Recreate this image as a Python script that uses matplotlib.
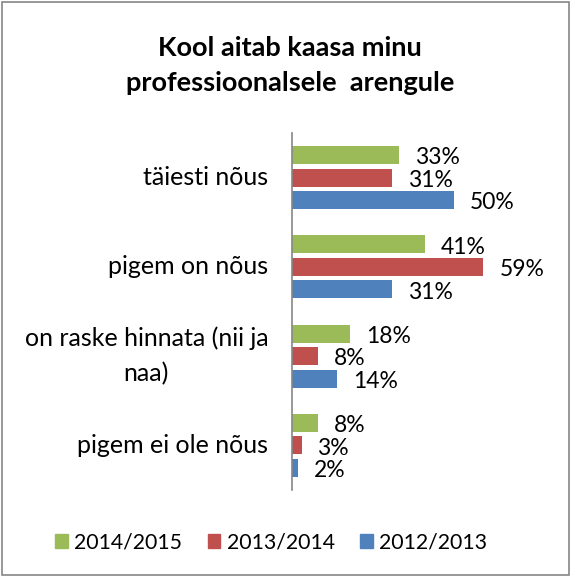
import matplotlib
matplotlib.use("Agg")
import matplotlib.pyplot as plt
from matplotlib.patches import Rectangle, Patch

plt.rcParams['font.family'] = ['Lato', 'DejaVu Sans']

# andmed
kategooriad = ['täiesti nõus', 'pigem on nõus', 'on raske hinnata (nii ja\nnaa)', 'pigem ei ole nõus']
aastad = ['2014/2015', '2013/2014', '2012/2013']
v_2014_2015 = [33, 41, 18, 8]
v_2013_2014 = [31, 59, 8, 3]
v_2012_2013 = [50, 31, 14, 2]
seeriad = [v_2014_2015, v_2013_2014, v_2012_2013]
varvid = ['#9BBB59', '#C0504D', '#4F81BD']

fig = plt.figure(figsize=(5.71, 5.77), dpi=100)
ax = fig.add_axes([0.511, 0.1508, 0.398, 0.6187])

samm = 0.252
korgus = 0.2
for j, (vals, col, nimi) in enumerate(zip(seeriad, varvid, aastad)):
    ypos = [i + (j - 1) * samm for i in range(len(kategooriad))]
    ax.barh(ypos, vals, height=korgus, color=col, label=nimi)
    for y, v in zip(ypos, vals):
        ax.annotate(f'{v}%', (v, y), xytext=(11.5, -2), textcoords='offset points',
                    ha='left', va='center', fontsize=16.5)

ax.set_xlim(0, 70)
ax.set_ylim(3.5, -0.5)
ax.set_yticks([])
ax.set_xticks([])

# kategooriate nimed: keskele joondatud, parem serv telje ees
sildid = []
for i, k in enumerate(kategooriad):
    t = ax.annotate(k, (0, i), xycoords=ax.get_yaxis_transform(), xytext=(-17, 0),
                    textcoords='offset points', ha='center', va='center',
                    fontsize=18, linespacing=1.6)
    sildid.append(t)
fig.canvas.draw()
r = fig.canvas.get_renderer()
for t in sildid:
    w = t.get_window_extent(r).width * 72 / fig.dpi
    t.set_position((-17 - w / 2, 0))

for s in ['top', 'right', 'bottom']:
    ax.spines[s].set_visible(False)
ax.spines['left'].set_color('#868686')
ax.spines['left'].set_linewidth(1.2)

fig.text(0.508, 0.887, 'Kool aitab kaasa minu\nprofessioonalsele  arengule',
         ha='center', va='center', fontsize=19.5, fontweight='bold', linespacing=1.55)

handles = [Patch(color=c, label=n) for c, n in zip(varvid, aastad)]
fig.legend(handles=handles, loc='center', bbox_to_anchor=(0.475, 0.06), ncol=3,
           frameon=False, fontsize=15.3, handlelength=0.6, handleheight=0.6,
           handletextpad=0.3, columnspacing=1.2)

fig.patches.append(Rectangle((0.004, 0.004), 0.992, 0.992, transform=fig.transFigure,
                             fill=False, edgecolor='#868686', linewidth=1.2))

fig.savefig('out.png', dpi=100)
